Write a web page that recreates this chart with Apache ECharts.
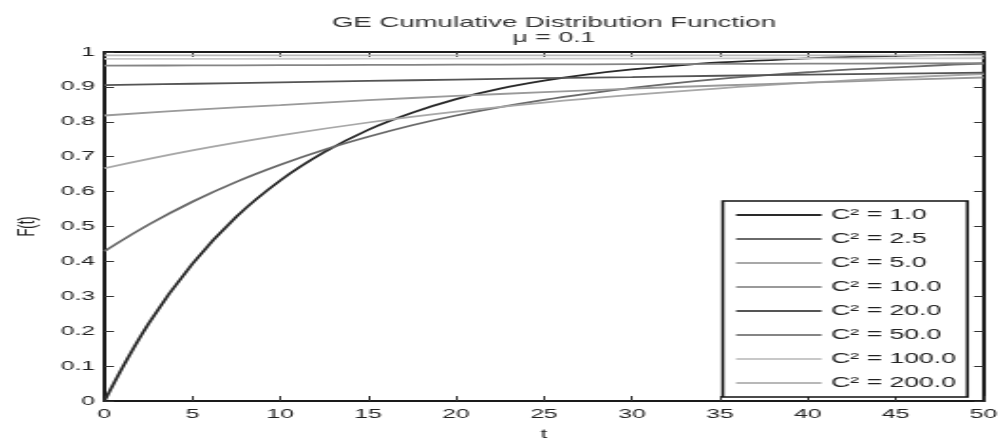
<!DOCTYPE html>
<html>
<head>
<meta charset="utf-8">
<script src="https://cdn.jsdelivr.net/npm/echarts@6/dist/echarts.min.js"></script>
<style>
  html, body { margin: 0; padding: 0; background: #fff; overflow: hidden; }
  /* the figure is drawn narrow and stretched sideways to its wide aspect */
  #chart { width: 528px; height: 446px; transform: scaleX(1.8996); transform-origin: 0 0; }
</style>
</head>
<body>
<div id="chart"></div>
<script>
// time points
const tFine = [0, 2.5, 5, 7.5, 10, 12.5, 15, 17.5, 20, 22.5, 25, 27.5, 30, 32.5, 35, 37.5, 40, 42.5, 45, 47.5, 50];
const tCoarse = [0, 5, 10, 15, 20, 25, 30, 35, 40, 45, 50];

// F(t) for each squared coefficient of variation
const f1 = [0, 0.221, 0.393, 0.528, 0.632, 0.713, 0.777, 0.826, 0.865, 0.895, 0.918, 0.936, 0.950, 0.961, 0.970, 0.976, 0.982, 0.986, 0.989, 0.991, 0.993];
const f2_5 = [0.429, 0.505, 0.571, 0.628, 0.677, 0.720, 0.757, 0.790, 0.818, 0.842, 0.863, 0.881, 0.897, 0.911, 0.923, 0.933, 0.942, 0.950, 0.956, 0.962, 0.967];
const f5 = [0.667, 0.718, 0.761, 0.798, 0.829, 0.855, 0.877, 0.896, 0.912, 0.926, 0.937];
const f10 = [0.818, 0.834, 0.848, 0.862, 0.874, 0.885, 0.895, 0.904, 0.912, 0.920, 0.927];
const f20 = [0.905, 0.909, 0.913, 0.917, 0.921, 0.925, 0.928, 0.932, 0.935, 0.938, 0.941];
const f50 = [0.9608, 0.9615, 0.9623, 0.9630, 0.9637, 0.9644, 0.9651, 0.9658, 0.9665, 0.9671, 0.9678];
const f100 = [0.9802, 0.9804, 0.9806, 0.9808, 0.9810, 0.9812, 0.9813, 0.9815, 0.9817, 0.9819, 0.9821];
const f200 = [0.9901, 0.9901, 0.9902, 0.9902, 0.9903, 0.9903, 0.9904, 0.9904, 0.9904, 0.9905, 0.9905];

const seriesNames = ['C\u00B2 = 1.0', 'C\u00B2 = 2.5', 'C\u00B2 = 5.0', 'C\u00B2 = 10.0', 'C\u00B2 = 20.0', 'C\u00B2 = 50.0', 'C\u00B2 = 100.0', 'C\u00B2 = 200.0'];
const seriesT = [tFine, tFine, tCoarse, tCoarse, tCoarse, tCoarse, tCoarse, tCoarse];
const seriesF = [f1, f2_5, f5, f10, f20, f50, f100, f200];
const seriesColors = ['#2a2a2a', '#6a6a6a', '#a8a8a8', '#9a9a9a', '#555555', '#858585', '#c8c8c8', '#b8b8b8'];

const FONT = 'Liberation Sans, Arial, sans-serif';
const INK = '#1a1a1a';

const chart = echarts.init(document.getElementById('chart'), null, { renderer: 'canvas' });

const frameAxis = {
  axisLine: { show: true, onZero: false, lineStyle: { color: INK, width: 2 } },
  axisTick: { show: true, inside: true, length: 5, lineStyle: { color: '#333', width: 1 } },
  splitLine: { show: false }
};

chart.setOption({
  animation: false,
  backgroundColor: '#fff',
  title: {
    text: 'GE Cumulative Distribution Function',
    subtext: '\u03BC = 0.1',
    left: 286.6,
    top: 10,
    textAlign: 'center',
    itemGap: 1,
    textStyle: { fontFamily: FONT, fontSize: 14.5, fontWeight: 'normal', color: '#333' },
    subtextStyle: { fontFamily: FONT, fontSize: 14, color: '#333' }
  },
  grid: { left: 53.7, right: 8.4, top: 52, bottom: 41 },
  legend: {
    orient: 'vertical',
    left: 380.5,
    top: 201,
    padding: [7, 6, 7, 7],
    itemWidth: 45,
    itemHeight: 14,
    itemGap: 10,
    backgroundColor: '#fff',
    borderColor: '#111',
    borderWidth: 1.5,
    icon: 'path://M0,6 L45,6 L45,8 L0,8 Z',
    textStyle: { fontFamily: FONT, fontSize: 14, color: '#222' },
    data: seriesNames
  },
  xAxis: [
    Object.assign({
      type: 'value', position: 'bottom', min: 0, max: 50, interval: 5,
      name: 't', nameLocation: 'middle', nameGap: 27,
      nameTextStyle: { fontFamily: FONT, fontSize: 13, color: '#222' },
      axisLabel: { fontFamily: FONT, fontSize: 13, color: '#222', margin: 7 }
    }, frameAxis),
    Object.assign({
      type: 'value', position: 'top', min: 0, max: 50, interval: 5,
      axisLabel: { show: false }
    }, frameAxis)
  ],
  yAxis: [
    Object.assign({
      type: 'value', position: 'left', min: 0, max: 1, interval: 0.1,
      name: 'F(t)', nameLocation: 'middle', nameGap: 33,
      nameTextStyle: { fontFamily: FONT, fontSize: 13, color: '#222' },
      axisLabel: { fontFamily: FONT, fontSize: 13, color: '#222', margin: 5 }
    }, frameAxis),
    Object.assign({
      type: 'value', position: 'right', min: 0, max: 1, interval: 0.1,
      axisLabel: { show: false }
    }, frameAxis)
  ],
  series: seriesNames.map((name, k) => ({
    name: name,
    type: 'line',
    xAxisIndex: 0,
    yAxisIndex: 0,
    showSymbol: false,
    symbol: 'none',
    smooth: 0.4,
    color: seriesColors[k],
    lineStyle: { color: seriesColors[k], width: 1.8 },
    data: seriesT[k].map((t, i) => [t, seriesF[k][i]])
  }))
});
</script>
</body>
</html>
